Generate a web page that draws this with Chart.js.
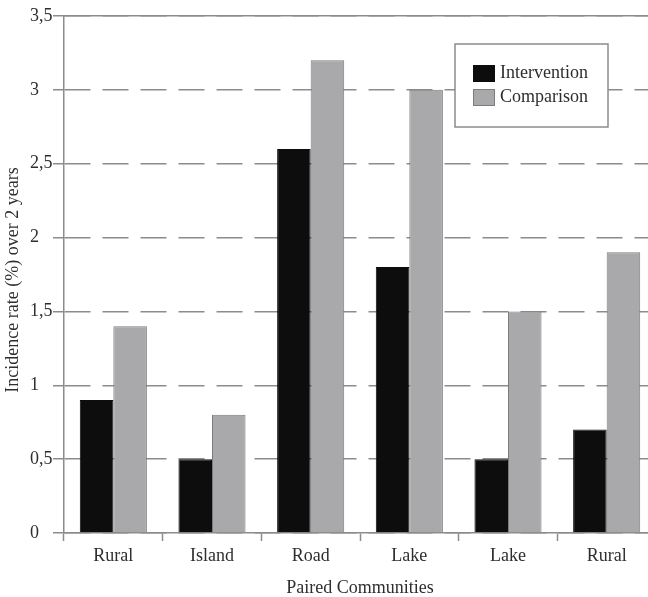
<!DOCTYPE html>
<html>
<head>
<meta charset="utf-8">
<title>Incidence rate by paired communities</title>
<script src="https://cdn.jsdelivr.net/npm/chart.js@4.4.1/dist/chart.umd.min.js"></script>
<style>
  html, body { margin: 0; padding: 0; background: #fff; overflow: hidden; }
  #wrap { width: 656px; height: 597px; }
</style>
</head>
<body>
<div id="wrap"><canvas id="chart" width="656" height="597"></canvas></div>
<script>
// chart data
const communities = ['Rural', 'Island', 'Road', 'Lake', 'Lake', 'Rural'];
const intervention = [0.9, 0.5, 2.6, 1.8, 0.5, 0.7];
const comparison = [1.4, 0.8, 3.2, 3.0, 1.5, 1.9];
const seriesNames = ['Intervention', 'Comparison'];
const yTickLabels = ['0', '0,5', '1', '1,5', '2', '2,5', '3', '3,5'];
const yTitle = 'Incidence rate (%) over 2 years';
const xTitle = 'Paired Communities';

const serif = '"Liberation Serif", "Times New Roman", serif';
const textColor = '#2e2e2e';
const lineGray = '#8c8c8c';

Chart.defaults.font.family = serif;
Chart.defaults.font.size = 18;
Chart.defaults.color = textColor;

// legend with a frame, drawn inside the plot area
const boxLegend = {
    id: 'boxLegend',
    afterDatasetsDraw(chart) {
        const ctx = chart.ctx;
        ctx.save();
        ctx.fillStyle = '#fff';
        ctx.fillRect(455, 44, 153, 83);
        ctx.strokeStyle = lineGray;
        ctx.lineWidth = 1.5;
        ctx.strokeRect(455, 44, 153, 83);
        ctx.font = '18px ' + serif;
        ctx.textBaseline = 'middle';
        ctx.textAlign = 'left';
        chart.data.datasets.forEach((ds, i) => {
            const y = 65 + i * 24;
            ctx.fillStyle = ds.backgroundColor;
            ctx.fillRect(473, y, 22, 17);
            ctx.strokeStyle = ds.borderColor;
            ctx.lineWidth = 1;
            ctx.strokeRect(473.5, y + 0.5, 21, 16);
            ctx.fillStyle = textColor;
            ctx.fillText(ds.label, 500, y + 8);
        });
        ctx.restore();
    }
};

// rotated y axis title at the far left
const yAxisTitle = {
    id: 'yAxisTitle',
    afterDraw(chart) {
        const ctx = chart.ctx;
        ctx.save();
        ctx.translate(13, 280);
        ctx.rotate(-Math.PI / 2);
        ctx.font = '18px ' + serif;
        ctx.fillStyle = textColor;
        ctx.textAlign = 'center';
        ctx.textBaseline = 'middle';
        ctx.fillText(yTitle, 0, 0);
        ctx.restore();
    }
};

const ctx = document.getElementById('chart').getContext('2d');
new Chart(ctx, {
    type: 'bar',
    data: {
        labels: communities,
        datasets: [
            {
                label: seriesNames[0],
                data: intervention,
                backgroundColor: '#0d0d0d',
                borderColor: '#0d0d0d',
                borderWidth: 1
            },
            {
                label: seriesNames[1],
                data: comparison,
                backgroundColor: '#a9a9ac',
                borderColor: '#7c7c7c',
                borderWidth: 1
            }
        ]
    },
    options: {
        responsive: false,
        animation: false,
        devicePixelRatio: 1,
        barPercentage: 1,
        categoryPercentage: 0.68,
        layout: { padding: { left: 30, top: 16, right: 0, bottom: 0 } },
        plugins: {
            legend: { display: false },
            tooltip: { enabled: false }
        },
        scales: {
            x: {
                position: 'bottom',
                grid: {
                    drawOnChartArea: false,
                    drawTicks: true,
                    tickLength: 8,
                    tickColor: lineGray,
                    tickWidth: 1.5
                },
                border: { display: true, color: lineGray, width: 1.5 },
                ticks: { padding: 4, color: textColor, font: { size: 18 } },
                title: {
                    display: true,
                    text: xTitle,
                    color: textColor,
                    font: { size: 18, lineHeight: 1 },
                    padding: { top: 0, bottom: 0 }
                },
                afterFit(scale) { scale.height = 64; }
            },
            x2: {
                type: 'category',
                position: 'top',
                grid: { display: false, drawTicks: false },
                border: { display: true, color: lineGray, width: 1.5 },
                ticks: { display: false },
                afterFit(scale) { scale.height = 0; }
            },
            y: {
                min: 0,
                max: 3.5,
                ticks: {
                    stepSize: 0.5,
                    crossAlign: 'far',
                    color: textColor,
                    font: { size: 18 },
                    callback: (value, index) => yTickLabels[index]
                },
                grid: {
                    color: lineGray,
                    lineWidth: 1.5,
                    tickLength: 11,
                    tickColor: lineGray,
                    tickWidth: 1.5,
                    tickBorderDash: []
                },
                border: { display: true, color: lineGray, width: 1.5, dash: [26, 12] },
                afterFit(scale) { scale.width = 34; }
            }
        }
    },
    plugins: [boxLegend, yAxisTitle]
});
</script>
</body>
</html>
